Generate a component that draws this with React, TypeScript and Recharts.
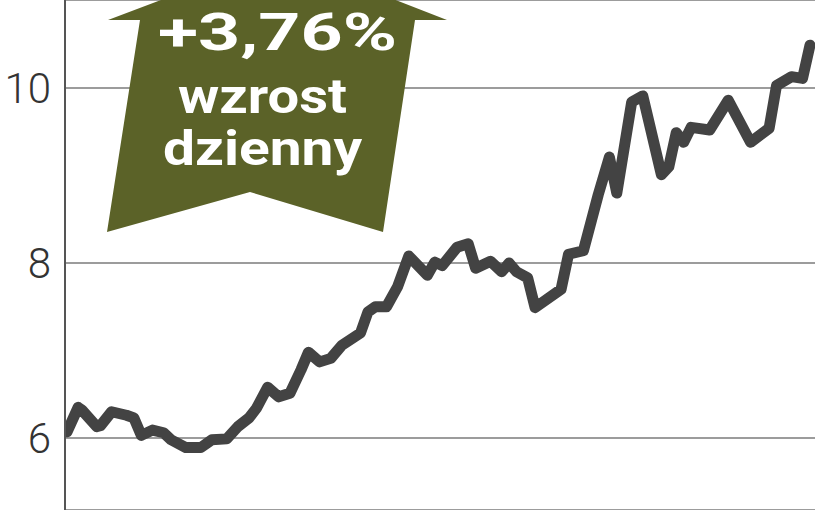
import React from 'react';
import { LineChart, Line, XAxis, YAxis, CartesianGrid } from 'recharts';

// trading-day index (x) and share price in PLN (y)
const days = [
  0, 3, 4, 8, 9, 12, 16, 18, 20, 23, 26, 28, 32, 36, 39, 43, 46, 49, 51, 54,
  57, 60, 63, 65, 68, 71, 74, 79, 81, 83, 86, 89, 92, 97, 99, 101, 105, 108, 110, 114,
  117, 119, 121, 124, 126, 133, 135, 139, 143, 146, 148, 152, 155, 160, 162, 164, 166, 168, 173, 178,
  184, 189, 191, 195, 198, 200,
];
const prices = [
  6.07, 6.35, 6.32, 6.13, 6.14, 6.3, 6.26, 6.23, 6.03, 6.09, 6.06, 5.98, 5.89, 5.89, 5.98, 5.99, 6.13, 6.23, 6.34, 6.58,
  6.47, 6.51, 6.78, 6.98, 6.87, 6.91, 7.06, 7.2, 7.44, 7.5, 7.5, 7.73, 8.08, 7.86, 8.01, 7.97, 8.18, 8.22, 7.94, 8.02,
  7.9, 8.0, 7.9, 7.83, 7.49, 7.7, 8.1, 8.14, 8.78, 9.21, 8.8, 9.84, 9.91, 9.01, 9.1, 9.49, 9.38, 9.55, 9.52, 9.86,
  9.38, 9.54, 10.03, 10.13, 10.11, 10.49,
];
const yTicks = [6, 8, 10];
const badgeLines = ['+3,76%', 'wzrost', 'dzienny'];

const data = days.map((d, i) => ({ day: d, price: prices[i] }));

const W = 816;
const H = 510;

function Badge() {
  const pts = '280,-45 447,20 415,20 383,232 250,192 107,232 140,20 108,20';
  return (
    <svg
      width={W}
      height={H}
      style={{ position: 'absolute', left: 0, top: 0, pointerEvents: 'none' }}
    >
      <polygon points={pts} fill="#5b6228" />
      <text
        x={158}
        y={50}
        fill="#ffffff"
        fontFamily="Roboto, 'DejaVu Sans', sans-serif"
        fontWeight={700}
        fontSize={52}
        textLength={239}
        lengthAdjust="spacingAndGlyphs"
      >
        {badgeLines[0]}
      </text>
      <text
        x={178}
        y={113}
        fill="#ffffff"
        fontFamily="Roboto, 'DejaVu Sans', sans-serif"
        fontWeight={700}
        fontSize={48}
        textLength={169}
        lengthAdjust="spacingAndGlyphs"
      >
        {badgeLines[1]}
      </text>
      <text
        x={163}
        y={165}
        fill="#ffffff"
        fontFamily="Roboto, 'DejaVu Sans', sans-serif"
        fontWeight={700}
        fontSize={48}
        textLength={199}
        lengthAdjust="spacingAndGlyphs"
      >
        {badgeLines[2]}
      </text>
    </svg>
  );
}

export default function App() {
  return (
    <div style={{ position: 'absolute', left: 0, top: 0, width: W, height: H, background: '#fff' }}>
      <LineChart width={W} height={H} data={data} margin={{ top: 0, right: 1, bottom: 0, left: 0 }}>
        <CartesianGrid vertical={false} stroke="#9c9c9c" strokeWidth={2} />
        <XAxis type="number" dataKey="day" domain={[-0.54, 201.35]} hide allowDataOverflow />
        <YAxis
          type="number"
          domain={[5.177, 11.006]}
          ticks={yTicks}
          allowDataOverflow
          width={65}
          axisLine={{ stroke: '#555555', strokeWidth: 2 }}
          tickLine={false}
          tickSize={0}
          tickMargin={14}
          tick={{ fontSize: 42, fill: '#333333', fontFamily: 'Roboto', fontWeight: 300 }}
        />
        <Line
          type="linear"
          dataKey="price"
          stroke="#434343"
          strokeWidth={11}
          strokeLinejoin="round"
          strokeLinecap="round"
          dot={false}
          isAnimationActive={false}
        />
      </LineChart>
      <Badge />
    </div>
  );
}
